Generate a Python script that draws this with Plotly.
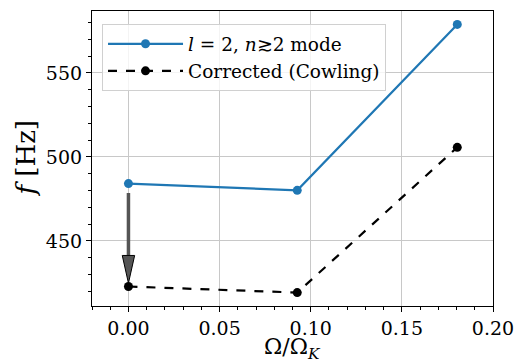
import plotly.graph_objects as go

omega_ratio = [0.0, 0.0926, 0.1804]
f_mode = [484.1, 480.1, 578.9]
f_corrected = [422.8, 419.2, 505.7]
arrow_x = 0.0
arrow_from = 478.5
arrow_to = 424.8

SERIF = "DejaVu Serif"

fig = go.Figure()
fig.add_trace(go.Scatter(
    x=omega_ratio, y=f_mode, mode="lines+markers",
    name="<i>l</i> = 2, <i>n</i>≳2 mode",
    line=dict(color="#1f77b4", width=2.2),
    marker=dict(color="#1f77b4", size=9),
))
fig.add_trace(go.Scatter(
    x=omega_ratio, y=f_corrected, mode="lines+markers",
    name="Corrected (Cowling)",
    line=dict(color="black", width=2.2, dash="dash"),
    marker=dict(color="black", size=9),
))

# arrow (shaft + narrow head) derived from arrow values
head_len = 16.5      # in Hz
head_half = 0.0034   # in x units
fig.add_trace(go.Scatter(
    x=[arrow_x, arrow_x], y=[arrow_from, arrow_to + head_len],
    mode="lines", line=dict(color="#555555", width=3.5),
    showlegend=False, hoverinfo="skip",
))
fig.add_trace(go.Scatter(
    x=[arrow_x - head_half, arrow_x + head_half, arrow_x, arrow_x - head_half],
    y=[arrow_to + head_len, arrow_to + head_len, arrow_to, arrow_to + head_len],
    mode="lines", fill="toself", fillcolor="#555555",
    line=dict(color="black", width=1),
    showlegend=False, hoverinfo="skip",
))

def minor(dtick):
    return dict(ticks="outside", ticklen=3, tickwidth=1, tickcolor="black",
                showgrid=False, dtick=dtick, tick0=0)

axis_common = dict(
    showline=True, linecolor="black", linewidth=1.2, mirror=True,
    ticks="outside", ticklen=5, tickwidth=1.2, tickcolor="black",
    showgrid=True, gridcolor="#c8c8c8", gridwidth=1.2,
    zeroline=False, automargin=False,
    tickfont=dict(family=SERIF, size=19, color="black"),
)

fig.update_layout(
    width=518, height=362,
    margin=dict(l=92, r=25, t=11, b=56),
    paper_bgcolor="white", plot_bgcolor="white",
    showlegend=True,
    legend=dict(
        x=0.025, y=0.955, xanchor="left", yanchor="top",
        bgcolor="rgba(255,255,255,0.8)", bordercolor="#d0d0d0", borderwidth=1,
        font=dict(family=SERIF, size=18.5, color="black"),
        tracegroupgap=0, itemwidth=75,
    ),
    xaxis=dict(
        range=[-0.02, 0.2], tickvals=[0, 0.05, 0.1, 0.15, 0.2],
        ticktext=["0.00", "0.05", "0.10", "0.15", "0.20"],
        minor=minor(0.01),
        **axis_common,
    ),
    yaxis=dict(
        range=[411.2, 586.9], tickvals=[450, 500, 550],
        minor=minor(10),
        **axis_common,
    ),
    annotations=[
        dict(text="Ω/Ω<sub><i>K</i></sub>", xref="paper", yref="paper",
             x=0.5, y=-0.089, xanchor="center", yanchor="top", showarrow=False,
             font=dict(family=SERIF, size=22, color="black")),
        dict(text="<i>f</i> [Hz]", xref="paper", yref="paper",
             x=-0.167, y=0.5, xanchor="center", yanchor="middle", showarrow=False,
             textangle=-90, font=dict(family=SERIF, size=26, color="black")),
    ],
)

fig.write_html("out.html")
